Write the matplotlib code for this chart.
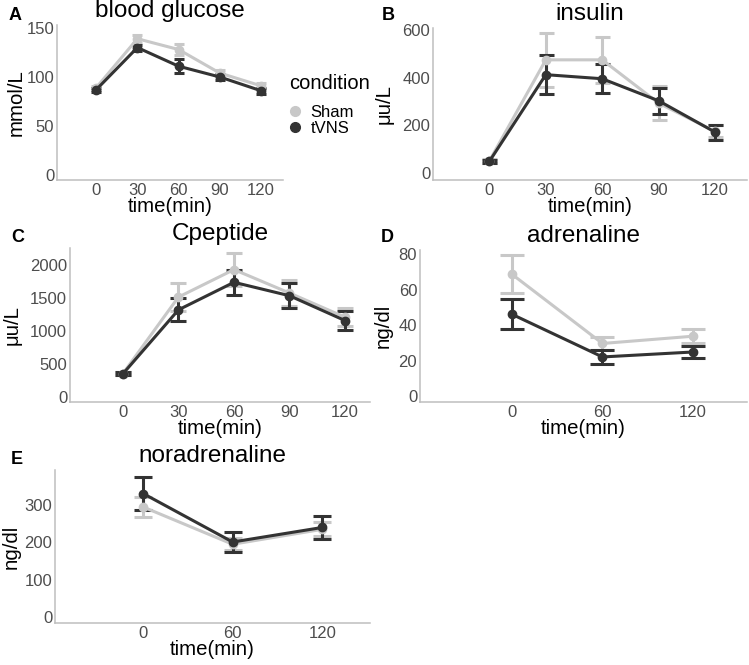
import matplotlib
matplotlib.use("Agg")
import matplotlib.pyplot as plt
from matplotlib.lines import Line2D

plt.rcParams["font.family"] = ["Liberation Sans", "DejaVu Sans"]

# ---- data ----
times_5 = [0, 30, 60, 90, 120]
times_3 = [0, 60, 120]

glucose_sham = [89, 139, 128, 104, 91]
glucose_sham_se = [2, 4, 6, 3, 3]
glucose_tvns = [87, 130, 111, 100, 86]
glucose_tvns_se = [2, 3, 7, 3, 3]

insulin_sham = [52, 474, 474, 293, 175]
insulin_sham_se = [8, 112, 96, 70, 25]
insulin_tvns = [50, 412, 395, 303, 172]
insulin_tvns_se = [7, 82, 60, 54, 31]

cpep_sham = [354, 1509, 1924, 1570, 1205]
cpep_sham_se = [20, 213, 243, 192, 137]
cpep_tvns = [350, 1316, 1732, 1529, 1154]
cpep_tvns_se = [20, 175, 190, 185, 140]

adr_sham = [68.9, 29.8, 33.9]
adr_sham_se = [10.8, 3.5, 4.0]
adr_tvns = [46.3, 22.2, 25.0]
adr_tvns_se = [8.6, 4.2, 3.6]

nor_sham = [295, 195, 235]
nor_sham_se = [26, 16, 19]
nor_tvns = [331, 201, 240]
nor_tvns_se = [45, 28, 32]

SHAM = "#c8c8c8"
TVNS = "#333333"
W, H = 749, 665

fig = plt.figure(figsize=(W / 100, H / 100), dpi=100)


def add_panel(px, letter, letter_xy, title, ylabel, x, sham, sham_se, tvns, tvns_se,
              yticks, ylim, xlim, cap, ylab_right):
    left, top, right, bottom = px
    ax = fig.add_axes([left / W, 1 - bottom / H, (right - left) / W, (bottom - top) / H])
    w = right - left
    h = bottom - top
    for y, se, col in [(sham, sham_se, SHAM), (tvns, tvns_se, TVNS)]:
        ax.errorbar(x, y, yerr=se, color=col, lw=2.2, marker="o", ms=6,
                    elinewidth=2.2, capsize=cap, capthick=2.2)
    ax.set_xticks(x)
    ax.set_yticks(yticks)
    ax.set_xlim(*xlim)
    ax.set_ylim(*ylim)
    ax.tick_params(length=0, labelsize=12, labelcolor="#4d4d4d", pad=2)
    for s in ["top", "right"]:
        ax.spines[s].set_visible(False)
    for s in ["left", "bottom"]:
        ax.spines[s].set_color("#bebebe")
        ax.spines[s].set_linewidth(1.1)
    ax.set_xlabel("time(min)", fontsize=14.7)
    ax.xaxis.set_label_coords(0.5, -17 / h)
    ax.set_ylabel(ylabel, fontsize=14.7)
    ax.yaxis.set_label_coords((ylab_right - left) / w, 0.5)
    ax.text(0.5, 1 + 14 / h, title, transform=ax.transAxes, ha="center",
            va="center", fontsize=17.5)
    fig.text(letter_xy[0] / W, 1 - letter_xy[1] / H, letter, fontsize=13,
             fontweight="bold", va="center", ha="left")
    return ax


axA = add_panel((57, 25, 283, 180), "A", (9, 16), "blood glucose", "mmol/L", times_5,
                glucose_sham, glucose_sham_se, glucose_tvns, glucose_tvns_se,
                [0, 50, 100, 150], (-5, 153), (-28.5, 136), 3.6, 26)
axB = add_panel((433, 28, 747, 180), "B", (382, 16), "insulin", "\u03bcu/L", times_5,
                insulin_sham, insulin_sham_se, insulin_tvns, insulin_tvns_se,
                [0, 200, 400, 600], (-28, 607), (-30, 137), 5.4, 394)
axC = add_panel((70, 248, 370, 402), "C", (11, 238), "Cpeptide", "\u03bcu/L", times_5,
                cpep_sham, cpep_sham_se, cpep_tvns, cpep_tvns_se,
                [0, 500, 1000, 1500, 2000], (-76, 2250), (-28.6, 133.5), 6, 22)
axD = add_panel((420, 250, 747, 402), "D", (381, 238), "adrenaline", "ng/dl", times_3,
                adr_sham, adr_sham_se, adr_tvns, adr_tvns_se,
                [0, 20, 40, 60, 80], (-3.2, 82.5), (-60.7, 155.6), 8.3, 393)
axE = add_panel((55, 470, 370, 623), "E", (11, 459), "noradrenaline", "ng/dl", times_3,
                nor_sham, nor_sham_se, nor_tvns, nor_tvns_se,
                [0, 100, 200, 300], (-16, 394), (-59, 152), 6.6, 21)

handles = [Line2D([], [], color=SHAM, marker="o", ls="none", ms=7),
           Line2D([], [], color=TVNS, marker="o", ls="none", ms=7)]
leg = fig.legend(handles, ["Sham", "tVNS"], title="condition", loc="upper left",
                 bbox_to_anchor=(277 / W, 1 - 62 / H), frameon=False,
                 fontsize=12, title_fontsize=14.5, handlelength=0.8,
                 handletextpad=0.5, labelspacing=0.05, borderpad=0.2)
leg._legend_box.align = "left"
leg._legend_box.sep = 9

fig.savefig("out.png", dpi=100)
